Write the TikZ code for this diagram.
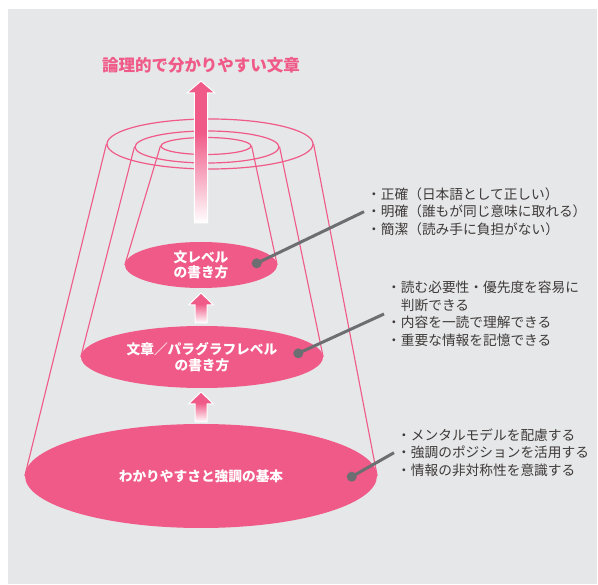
\documentclass[tikz,border=0pt]{standalone}
\usepackage{fontspec}
\newfontfamily\jpfont{Noto Sans CJK JP}
\usetikzlibrary{shapes.geometric}
\definecolor{hotpink}{HTML}{F05A88}
\definecolor{panel}{HTML}{E6E7E8}
\definecolor{leadgray}{HTML}{6D6E71}
\definecolor{notetext}{HTML}{3E3A39}
\pgfdeclareverticalshading{risefade}{100bp}{color(0bp)=(white); color(25bp)=(white); color(57bp)=(hotpink); color(100bp)=(hotpink)}

\begin{document}
\begin{tikzpicture}[x=1pt,y=-1pt,
        ring/.style={draw=hotpink,line width=1.2pt,ellipse,inner sep=0pt},
        level/.style={fill=hotpink,ellipse,inner sep=0pt,text=white,align=center,
            font=\jpfont\bfseries\fontsize{13.7}{15.5}\selectfont},
        side/.style={hotpink,line width=1.1pt},
        lift/.style={shading=risefade,draw=white,line width=1pt},
        leader/.style={leadgray,line width=3pt},
        dot/.style={circle,fill=leadgray,inner sep=0pt,minimum size=10pt},
        note/.style={anchor=west,inner sep=0pt,align=left,text=notetext,
            font=\jpfont\fontsize{13.7}{17.5}\selectfont}]
    \useasboundingbox (0,0) rectangle (598,585);
    \fill[panel] (8,9) rectangle (597,584);

    % rings
    \node[ring,minimum width=206pt,minimum height=50pt] (ringA) at (210,144) {};
    \node[ring,minimum width=144pt,minimum height=32pt] (ringB) at (207,147) {};
    \node[ring,minimum width=90pt,minimum height=17pt] (ringC) at (206,146) {};

    % levels
    \node[level,minimum width=152pt,minimum height=46pt] (lvlA) at (201,265) {文レベル\\の書き方};
    \node[level,minimum width=242pt,minimum height=62pt] (lvlB) at (202,357) {文章／パラグラフレベル\\の書き方};
    \node[level,minimum width=352pt,minimum height=104pt] (lvlC) at (201,476) {わかりやすさと強調の基本};

    \draw[side] (ringA.west) -- (lvlC.west) (ringA.east) -- (lvlC.east);
    \draw[side] (ringB.west) -- (lvlB.west) (ringB.east) -- (lvlB.east);
    \draw[side] (ringC.west) -- (lvlA.west) (ringC.east) -- (lvlA.east);

    % arrows
    \shadedraw[lift] (201,81) -- ++(14,12) -- ++(-7.3,0) -- ++(0,130) -- ++(-13.4,0)
        -- ++(0,-130) -- ++(-7.3,0) -- cycle;
    \foreach \t in {293,392}
        \shadedraw[lift] (201,\t) -- ++(12.5,12) -- ++(-6.5,0) -- ++(0,18) -- ++(-12,0)
            -- ++(0,-18) -- ++(-6.5,0) -- cycle;

    \node[text=hotpink,font=\jpfont\bfseries\fontsize{16.5}{18}\selectfont] (title) at (201,65) {論理的で分かりやすい文章};

    % notes
    \node[note] (noteA) at (367,211.7) {・正確（日本語として正しい）\\・明確（誰もが同じ意味に取れる）\\・簡潔（読み手に負担がない）};
    \node[note] (noteB) at (387,314) {・読む必要性・優先度を容易に\\\hspace*{1em}判断できる\\・内容を一読で理解できる\\・重要な情報を記憶できる};
    \node[note] (noteC) at (397,452.7) {・メンタルモデルを配慮する\\・強調のポジションを活用する\\・情報の非対称性を意識する};

    \node[dot] (dotA) at (256.7,263.3) {};
    \node[dot] (dotB) at (298.3,353.3) {};
    \node[dot] (dotC) at (351.7,476.7) {};
    \draw[leader] (dotA.center) -- ([xshift=-3pt]noteA.west);
    \draw[leader] (dotB.center) -- ([xshift=-3pt]noteB.west);
    \draw[leader] (dotC.center) -- ([xshift=-3pt]noteC.west);
\end{tikzpicture}
\end{document}
